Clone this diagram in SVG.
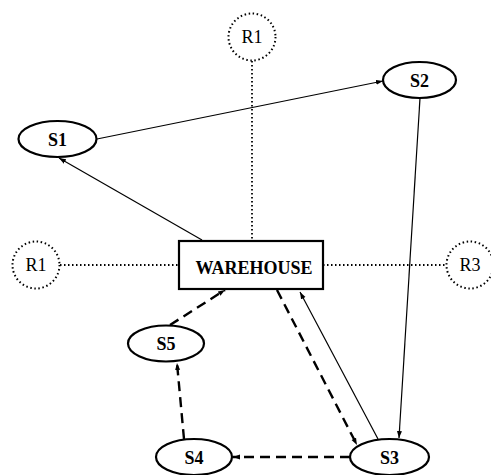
<svg xmlns="http://www.w3.org/2000/svg" width="491" height="475" viewBox="0 0 491 475">
  <style>
    .node { fill: #fff; stroke: #000; stroke-width: 2.2; }
    .route { fill: #fff; stroke: #000; stroke-width: 2; stroke-dasharray: 1.5 2.6; }
    .lbl { font-family: "Liberation Serif", "Times New Roman", serif; font-weight: bold; font-size: 18px; text-anchor: middle; fill: #000; }
    .rlbl { font-family: "Liberation Serif", "Times New Roman", serif; font-size: 18px; text-anchor: middle; fill: #000; }
    .solid { fill: none; stroke: #000; stroke-width: 1.2; marker-end: url(#arrow); }
    .dash { fill: none; stroke: #000; stroke-width: 2.4; stroke-dasharray: 10 6; marker-end: url(#arrow); }
    .dot { fill: none; stroke: #000; stroke-width: 1.8; stroke-dasharray: 1.5 2.5; }
  </style>
  <defs>
    <marker id="arrow" markerUnits="userSpaceOnUse" markerWidth="8" markerHeight="6" refX="7" refY="3" orient="auto">
      <path d="M0,0.5 L7,3 L0,5.5 Z" fill="#000"/>
    </marker>
  </defs>

  <rect width="491" height="475" fill="#fff"/>

  <g id="connectors">
    <!-- route links -->
    <line class="dot" x1="252" y1="61" x2="252" y2="241"/>
    <line class="dot" x1="60" y1="265" x2="179" y2="265"/>
    <line class="dot" x1="323" y1="265" x2="447" y2="265"/>
    <!-- solid flows -->
    <line class="solid" x1="97" y1="139" x2="383" y2="81"/>
    <line class="solid" x1="420" y1="98" x2="399" y2="438"/>
    <line class="solid" x1="202" y1="240" x2="59" y2="158"/>
    <line class="solid" x1="378" y1="439" x2="300" y2="292"/>
    <!-- dashed flows -->
    <line class="dash" x1="277" y1="290" x2="357" y2="445"/>
    <line class="dash" x1="350" y1="457" x2="233" y2="457"/>
    <line class="dash" x1="184" y1="439" x2="177" y2="363"/>
    <line class="dash" x1="170" y1="325" x2="225" y2="290"/>
  </g>

  <g id="R1-top">
    <circle class="route" cx="252" cy="37" r="23.5"/>
    <text class="rlbl" x="252" y="43">R1</text>
  </g>
  <g id="R1-left">
    <circle class="route" cx="36" cy="265" r="23.5"/>
    <text class="rlbl" x="36" y="271">R1</text>
  </g>
  <g id="R3">
    <circle class="route" cx="470" cy="265" r="23.5"/>
    <text class="rlbl" x="470" y="271">R3</text>
  </g>

  <g id="warehouse">
    <rect class="node" x="179" y="241" width="144" height="48"/>
    <text class="lbl" x="254" y="274">WAREHOUSE</text>
  </g>

  <g id="S1">
    <ellipse class="node" cx="57.5" cy="139" rx="39" ry="18"/>
    <text class="lbl" x="57.5" y="145.5">S1</text>
  </g>
  <g id="S2">
    <ellipse class="node" cx="419.5" cy="80" rx="36.5" ry="18"/>
    <text class="lbl" x="419.5" y="86.5">S2</text>
  </g>
  <g id="S3">
    <ellipse class="node" cx="389.5" cy="457" rx="39.5" ry="18"/>
    <text class="lbl" x="389.5" y="463.5">S3</text>
  </g>
  <g id="S4">
    <ellipse class="node" cx="194" cy="457" rx="38" ry="18"/>
    <text class="lbl" x="194" y="463.5">S4</text>
  </g>
  <g id="S5">
    <ellipse class="node" cx="166" cy="343.5" rx="38" ry="18"/>
    <text class="lbl" x="166" y="350">S5</text>
  </g>
</svg>
